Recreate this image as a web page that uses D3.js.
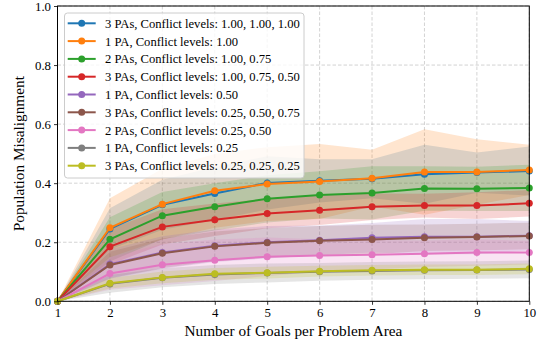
<!DOCTYPE html>
<html>
<head>
<meta charset="utf-8">
<script src="https://cdn.jsdelivr.net/npm/d3@7"></script>
<style>
  body { margin: 0; background: #fff; }
  text { font-family: "Liberation Serif", "DejaVu Serif", serif; fill: #000; }
</style>
</head>
<body>
<svg id="chart" width="542" height="347"></svg>
<script>
// goals per problem area
var goals = [1, 2, 3, 4, 5, 6, 7, 8, 9, 10];

var labels = [
    "3 PAs, Conflict levels: 1.00, 1.00, 1.00",
    "1 PA, Conflict levels: 1.00",
    "2 PAs, Conflict levels: 1.00, 0.75",
    "3 PAs, Conflict levels: 1.00, 0.75, 0.50",
    "1 PA, Conflict levels: 0.50",
    "3 PAs, Conflict levels: 0.25, 0.50, 0.75",
    "2 PAs, Conflict levels: 0.25, 0.50",
    "1 PA, Conflict levels: 0.25",
    "3 PAs, Conflict levels: 0.25, 0.25, 0.25"
];

var colors = ["#1f77b4", "#ff7f0e", "#2ca02c", "#d62728", "#9467bd", "#8c564b", "#e377c2", "#7f7f7f", "#bcbd22"];

// mean misalignment per series
var means = [
    [0, 0.245, 0.327, 0.365, 0.401, 0.408, 0.415, 0.430, 0.436, 0.441],
    [0, 0.249, 0.329, 0.374, 0.397, 0.406, 0.417, 0.438, 0.438, 0.445],
    [0, 0.210, 0.290, 0.320, 0.347, 0.360, 0.367, 0.382, 0.381, 0.384],
    [0, 0.185, 0.252, 0.276, 0.297, 0.308, 0.320, 0.324, 0.324, 0.332],
    [0, 0.126, 0.165, 0.188, 0.200, 0.207, 0.215, 0.219, 0.219, 0.222],
    [0, 0.123, 0.163, 0.186, 0.198, 0.205, 0.209, 0.215, 0.218, 0.221],
    [0, 0.094, 0.124, 0.139, 0.151, 0.155, 0.158, 0.161, 0.165, 0.165],
    [0, 0.059, 0.080, 0.091, 0.096, 0.100, 0.103, 0.105, 0.106, 0.108],
    [0, 0.061, 0.081, 0.093, 0.097, 0.102, 0.105, 0.107, 0.107, 0.110]
];

// spread (std) per series
var spreads = [
    [0, 0.070, 0.085, 0.090, 0.090, 0.073, 0.066, 0.100, 0.068, 0.083],
    [0, 0.100, 0.120, 0.125, 0.125, 0.127, 0.096, 0.145, 0.111, 0.085],
    [0, 0.075, 0.080, 0.080, 0.080, 0.080, 0.090, 0.075, 0.075, 0.078],
    [0, 0.060, 0.060, 0.055, 0.050, 0.050, 0.045, 0.040, 0.045, 0.045],
    [0, 0.050, 0.055, 0.055, 0.055, 0.050, 0.050, 0.060, 0.060, 0.050],
    [0, 0.045, 0.050, 0.050, 0.050, 0.050, 0.050, 0.045, 0.045, 0.045],
    [0, 0.055, 0.070, 0.070, 0.065, 0.055, 0.050, 0.045, 0.045, 0.040],
    [0, 0.030, 0.032, 0.032, 0.032, 0.030, 0.030, 0.030, 0.030, 0.030],
    [0, 0.018, 0.020, 0.020, 0.020, 0.018, 0.018, 0.018, 0.018, 0.018]
];

var yTicks = [0, 0.2, 0.4, 0.6, 0.8, 1.0];

var svg = d3.select("#chart");
var margin = {left: 57.5, right: 12.7, top: 6, bottom: 45.7};
var width = 542 - margin.left - margin.right;
var height = 347 - margin.top - margin.bottom;

var g = svg.append("g")
    .attr("transform", "translate(" + margin.left + "," + margin.top + ")");

var x = d3.scaleLinear().domain([1, 10]).range([0, width]);
var y = d3.scaleLinear().domain([0, 1]).range([height, 0]);

// grid
g.append("g").selectAll("line.vgrid")
    .data(goals)
    .enter().append("line")
    .attr("x1", function (d) { return x(d); })
    .attr("x2", function (d) { return x(d); })
    .attr("y1", 0)
    .attr("y2", height)
    .attr("stroke", "#b0b0b0")
    .attr("stroke-opacity", 0.7)
    .attr("stroke-dasharray", "3.5,2")
    .attr("stroke-width", 0.8);

g.append("g").selectAll("line.hgrid")
    .data(yTicks)
    .enter().append("line")
    .attr("x1", 0)
    .attr("x2", width)
    .attr("y1", function (d) { return y(d); })
    .attr("y2", function (d) { return y(d); })
    .attr("stroke", "#b0b0b0")
    .attr("stroke-opacity", 0.7)
    .attr("stroke-dasharray", "3.5,2")
    .attr("stroke-width", 0.8);

// bands first, lines on top (like matplotlib zorder)
var area = d3.area()
    .x(function (d) { return x(d.x); })
    .y0(function (d) { return y(d.m - d.s); })
    .y1(function (d) { return y(d.m + d.s); });

var line = d3.line()
    .x(function (d) { return x(d.x); })
    .y(function (d) { return y(d.m); });

var seriesData = means.map(function (m, i) {
    return goals.map(function (gx, j) {
        return {x: gx, m: m[j], s: spreads[i][j]};
    });
});

seriesData.forEach(function (pts, i) {
    g.append("path")
        .datum(pts)
        .attr("d", area)
        .attr("fill", colors[i])
        .attr("fill-opacity", 0.2)
        .attr("stroke", "none");
});

seriesData.forEach(function (pts, i) {
    g.append("path")
        .datum(pts)
        .attr("d", line)
        .attr("fill", "none")
        .attr("stroke", colors[i])
        .attr("stroke-width", 2);

    g.append("g").selectAll("circle")
        .data(pts)
        .enter().append("circle")
        .attr("cx", function (d) { return x(d.x); })
        .attr("cy", function (d) { return y(d.m); })
        .attr("r", 3.5)
        .attr("fill", colors[i]);
});

// axes
var xAxis = g.append("g")
    .attr("transform", "translate(0," + height + ")")
    .call(d3.axisBottom(x).tickValues(goals).tickFormat(d3.format("d")).tickSize(3.5).tickPadding(3));

var yAxis = g.append("g")
    .call(d3.axisLeft(y).tickValues(yTicks).tickFormat(d3.format(".1f")).tickSize(3.5).tickPadding(3));

[xAxis, yAxis].forEach(function (ax) {
    ax.select(".domain").remove();
    ax.selectAll("line").attr("stroke", "#000").attr("stroke-width", 0.8);
    ax.selectAll("text")
        .style("font-family", "'Liberation Serif', serif")
        .style("font-size", "12.8px")
        .attr("fill", "#000");
});

// frame
g.append("rect")
    .attr("x", 0)
    .attr("y", 0)
    .attr("width", width)
    .attr("height", height)
    .attr("fill", "none")
    .attr("stroke", "#000")
    .attr("stroke-width", 1);

// axis labels
svg.append("text")
    .attr("x", margin.left + width / 2)
    .attr("y", 336)
    .attr("text-anchor", "middle")
    .style("font-size", "15.3px")
    .text("Number of Goals per Problem Area");

svg.append("text")
    .attr("transform", "translate(24," + (margin.top + height / 2) + ") rotate(-90)")
    .attr("text-anchor", "middle")
    .style("font-size", "15.3px")
    .text("Population Misalignment");

// legend
var legend = svg.append("g").attr("transform", "translate(64.5,13)");

legend.append("rect")
    .attr("x", 0)
    .attr("y", 0)
    .attr("width", 239.5)
    .attr("height", 165)
    .attr("rx", 3)
    .attr("fill", "#fff")
    .attr("fill-opacity", 0.8)
    .attr("stroke", "#cccccc")
    .attr("stroke-width", 1);

labels.forEach(function (lab, i) {
    var ly = 10.3 + i * 17.8;
    legend.append("line")
        .attr("x1", 3.2)
        .attr("x2", 31.2)
        .attr("y1", ly)
        .attr("y2", ly)
        .attr("stroke", colors[i])
        .attr("stroke-width", 2);
    legend.append("circle")
        .attr("cx", 17.2)
        .attr("cy", ly)
        .attr("r", 3.5)
        .attr("fill", colors[i]);
    legend.append("text")
        .attr("x", 40.5)
        .attr("y", ly)
        .attr("dy", "0.35em")
        .style("font-size", "12.6px")
        .text(lab);
});
</script>
</body>
</html>
